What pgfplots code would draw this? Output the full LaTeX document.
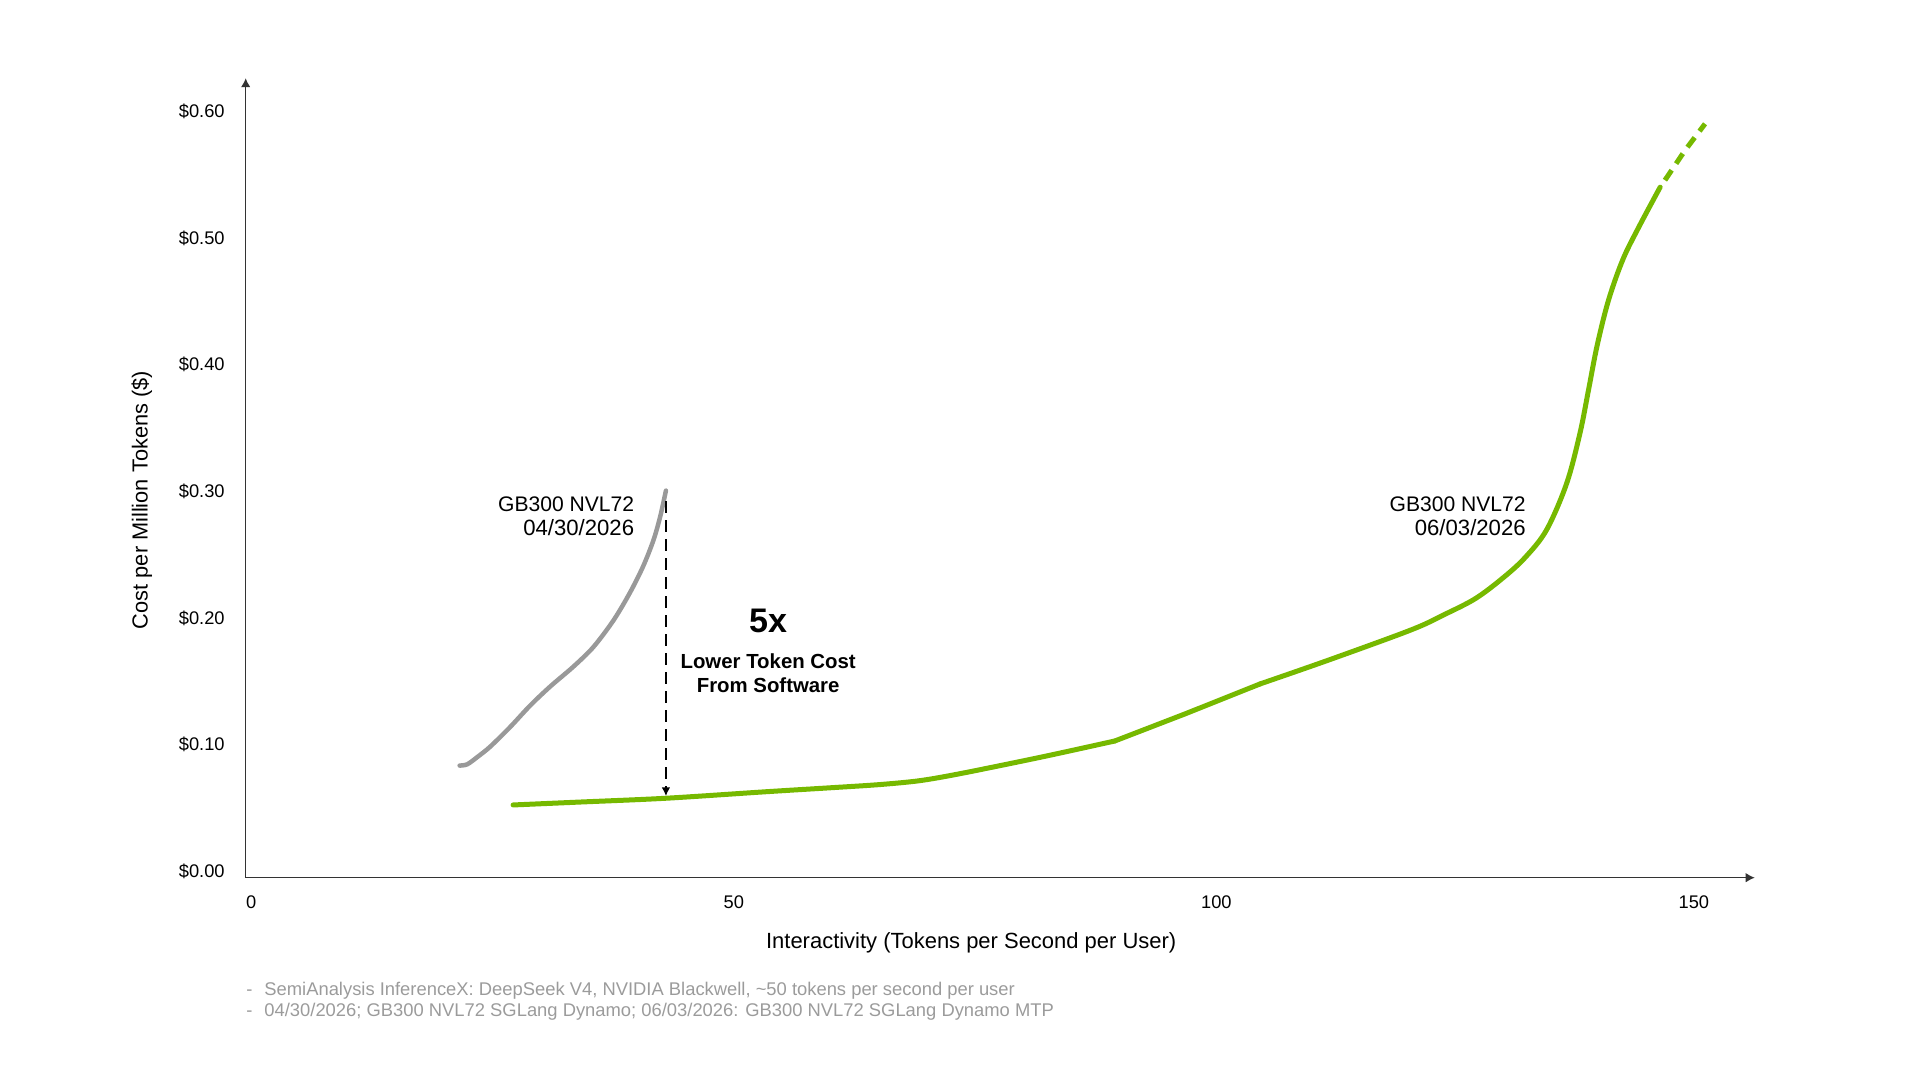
\documentclass[border=0pt]{standalone}
\usepackage{fontspec}
\setmainfont{Liberation Sans}
\usepackage{pgfplots}
\pgfplotsset{compat=1.18}
\usetikzlibrary{arrows.meta}

\definecolor{nvgreen}{HTML}{76B900}
\definecolor{curvegray}{HTML}{999999}
\definecolor{notegray}{HTML}{9B9B9B}
\definecolor{axisgray}{HTML}{333333}

% 1 px of the 1920x1080 reference = 0.02cm
\begin{document}
\begin{tikzpicture}
\path[use as bounding box] (0,0) rectangle (38.4cm,21.6cm);

\begin{axis}[
  at={(4.914cm,4.046cm)}, anchor=origin,
  scale only axis,
  width=30.18cm, height=15.99cm,
  xmin=0, xmax=158, ymin=0, ymax=0.631,
  enlargelimits=false, clip=false,
  axis lines=left,
  axis line style={draw=axisgray, line width=0.026cm, -{Latex[length=0.18cm,width=0.19cm]}},
  xtick={0,50,100,150},
  ytick={0,0.1,0.2,0.3,0.4,0.5,0.6},
  major tick length=0pt,
  tick style={draw=none},
  /pgf/number format/assume math mode=true,
  xticklabel style={anchor=base west, inner sep=0pt, yshift=-0.612cm,
    font=\fontsize{10.4pt}{12pt}\selectfont},
  yticklabel style={anchor=base east, inner sep=0pt, xshift=-0.414cm,
    font=\fontsize{10.4pt}{12pt}\selectfont},
  yticklabel={\$\pgfmathprintnumber[fixed,fixed zerofill,precision=2]{\tick}},
  green/.style={nvgreen, line width=0.1cm, line join=round, line cap=round},
]

% GB300 NVL72, 04/30/2026
\addplot[curvegray, line width=0.09cm, line join=round, line cap=round, smooth, tension=0.5] coordinates {
  (22.4,0.0885) (23.2,0.0895) (24.3,0.0955) (25.6,0.1034) (27.7,0.1190)
  (29.8,0.1360) (31.9,0.1510) (34.3,0.1665) (36.4,0.1820) (38.5,0.2030)
  (40.2,0.2245) (41.6,0.2455) (42.7,0.2665) (43.4,0.2850) (44.0,0.3055)
};

% GB300 NVL72, 06/03/2026
\addplot[green, smooth, tension=0.5] coordinates {
  (28.0,0.0574) (35.0,0.0597) (44.0,0.0627) (54.6,0.0679) (61.5,0.0711)
  (66.4,0.0735) (70.6,0.0766) (75.0,0.0824) (83.5,0.0955) (91.0,0.1079)
};
\addplot[green] coordinates {
  (91.0,0.1079) (98.5,0.1297) (106.2,0.1529)
};
\addplot[green, smooth, tension=0.55] coordinates {
  (106.2,0.1529) (113.4,0.1718) (122.0,0.1955) (125.4,0.2073)
  (128.8,0.2205) (131.8,0.2376) (134.0,0.2530) (136.2,0.2744)
  (138.3,0.3110) (139.7,0.3507) (140.6,0.3850) (141.5,0.4200)
  (142.7,0.4560) (144.2,0.4880) (145.9,0.5140) (148.1,0.5450)
};
\addplot[nvgreen, line width=0.1cm, dash pattern=on 0.24cm off 0.16cm] coordinates {
  (148.6,0.5505) (150.7,0.5740) (152.8,0.5950)
};

\draw[black, line width=0.026cm, dash pattern=on 0.24cm off 0.14cm,
  -{Latex[length=0.17cm,width=0.17cm]}] (44.0,0.297) -- (44.0,0.0645);
\end{axis}

\begin{scope}[x=0.02cm, y=-0.02cm, yshift=21.6cm, every node/.style={inner sep=0pt}]
  \node[rotate=90, font=\fontsize{12.4pt}{14pt}\selectfont] at (141.7,500)
    {Cost per Million Tokens (\$)};
  \node[font=\fontsize{12.5pt}{14pt}\selectfont] at (971,942.7)
    {Interactivity (Tokens per Second per User)};

  \begin{scope}[every node/.append style={anchor=base east, font=\fontsize{12pt}{14pt}\selectfont}]
    \node at (634.3,511.8) {GB300 NVL72};
    \node[font=\fontsize{12.6pt}{14pt}\selectfont] at (634.3,535.8) {04/30/2026};
    \node at (1525.7,511.5) {GB300 NVL72};
    \node[font=\fontsize{12.6pt}{14pt}\selectfont] at (1525.7,535.2) {06/03/2026};
  \end{scope}

  \node[anchor=base, font=\fontsize{19.4pt}{22pt}\selectfont\bfseries] at (768,632.5) {5x};
  \node[anchor=base, font=\fontsize{11.6pt}{14pt}\selectfont\bfseries] at (768,668.3) {Lower Token Cost};
  \node[anchor=base, font=\fontsize{11.6pt}{14pt}\selectfont\bfseries] at (768,692.3) {From Software};

  \begin{scope}[every node/.append style={anchor=base west, text=notegray,
      font=\fontsize{10.46pt}{12pt}\selectfont}]
    \node at (246,995) {-};
    \node at (264,995) {SemiAnalysis InferenceX: DeepSeek V4, NVIDIA Blackwell, \textasciitilde50 tokens per second per user};
    \node at (246,1016) {-};
    \node at (264,1016) {04/30/2026; GB300 NVL72 SGLang Dynamo; 06/03/2026: GB300 NVL72 SGLang Dynamo MTP};
  \end{scope}
\end{scope}
\end{tikzpicture}
\end{document}
